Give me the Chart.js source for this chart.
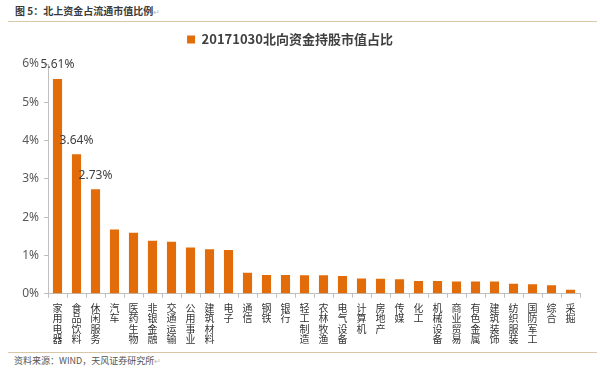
<!DOCTYPE html>
<html>
<head>
<meta charset="utf-8">
<script src="https://cdn.jsdelivr.net/npm/chart.js@4/dist/chart.umd.min.js"></script>
<style>
  body { margin: 0; background: #fff; font-family: "Noto Sans CJK SC", "Noto Sans", sans-serif; }
  #wrap { position: relative; width: 600px; height: 371px; overflow: hidden; }
  #title { position: absolute; left: 15px; top: 4px; font-size: 10px; line-height: 14px; font-weight: bold; color: #3a3a3a; }
  .mark { color: #bbb; font-weight: normal; font-size: 8px; }
  .rule { position: absolute; left: 8px; width: 589px; height: 1px; background: #d8c8a8; }
  #source { position: absolute; left: 14px; top: 355px; font-size: 9px; line-height: 12px; color: #555; }
  #box { position: absolute; left: 0; top: 24px; width: 600px; height: 322px; }
</style>
</head>
<body>
<div id="wrap">
  <div id="title">图 5：北上资金占流通市值比例<span class="mark">↵</span></div>
  <div class="rule" style="top:21px"></div>
  <div id="box"><canvas id="myChart"></canvas></div>
  <div class="rule" style="top:352px"></div>
  <div id="source">资料来源：WIND，天风证券研究所<span class="mark">↵</span></div>
</div>
<script>
// industries, sorted by share of float market value held by northbound funds
const industries = ['家用电器', '食品饮料', '休闲服务', '汽车', '医药生物', '非银金融', '交通运输', '公用事业', '建筑材料', '电子',
  '通信', '钢铁', '银行', '轻工制造', '农林牧渔', '电气设备', '计算机', '房地产', '传媒', '化工',
  '机械设备', '商业贸易', '有色金属', '建筑装饰', '纺织服装', '国防军工', '综合', '采掘'];
const shareValues = [5.61, 3.64, 2.73, 1.68, 1.59, 1.38, 1.36, 1.21, 1.16, 1.14,
  0.55, 0.49, 0.49, 0.48, 0.48, 0.46, 0.40, 0.39, 0.38, 0.33,
  0.33, 0.32, 0.32, 0.32, 0.26, 0.25, 0.22, 0.10];
const labelledBars = [0, 1, 2]; // only the top three carry a value label
const seriesName = '20171030北向资金持股市值占比';

const orange = '#e36c0a';

// draws the value labels over the first bars
const valueLabels = {
  id: 'valueLabels',
  afterDatasetsDraw(chart) {
    const ctx = chart.ctx;
    const meta = chart.getDatasetMeta(0);
    ctx.save();
    ctx.font = '12px "Noto Sans", sans-serif';
    ctx.fillStyle = '#404040';
    ctx.textAlign = 'center';
    ctx.textBaseline = 'middle';
    labelledBars.forEach(i => {
      const bar = meta.data[i];
      ctx.fillText(shareValues[i].toFixed(2) + '%', bar.x, bar.y - 14);
    });
    ctx.restore();
  }
};

// extra room under the legend
const legendGap = {
  id: 'legendGap',
  beforeInit(chart) {
    const fit = chart.legend.fit;
    chart.legend.fit = function () {
      fit.bind(chart.legend)();
      this.height += 8;
    };
  }
};

const ctx = document.getElementById('myChart');
new Chart(ctx, {
  type: 'bar',
  data: {
    labels: industries.map(name => name.split('')),
    datasets: [{
      label: seriesName,
      data: shareValues,
      backgroundColor: orange,
      borderWidth: 0,
      categoryPercentage: 1,
      barPercentage: 0.48
    }]
  },
  options: {
    responsive: true,
    maintainAspectRatio: false,
    animation: false,
    layout: { padding: { left: 0, right: 20, top: 0, bottom: 0 } },
    scales: {
      y: {
        min: 0,
        max: 6,
        afterFit(scale) { scale.width = 48; },
        ticks: {
          stepSize: 1,
          padding: 5,
          color: '#595959',
          font: { size: 12, family: '"Noto Sans", sans-serif' },
          callback: value => value + '%'
        },
        grid: { drawOnChartArea: false, tickLength: 4, color: '#bfbfbf' },
        border: { color: '#bfbfbf' }
      },
      x: {
        afterFit(scale) { scale.height = 52.3; },
        ticks: {
          autoSkip: false,
          maxRotation: 0,
          minRotation: 0,
          padding: 5,
          color: '#333',
          font: { size: 10, lineHeight: 1.05, family: '"Noto Sans CJK SC", sans-serif' }
        },
        grid: { drawOnChartArea: false, tickLength: 4, color: '#bfbfbf', offset: true },
        border: { color: '#bfbfbf' }
      }
    },
    plugins: {
      legend: {
        display: true,
        position: 'top',
        labels: {
          boxWidth: 8,
          boxHeight: 8,
          padding: 9,
          color: '#404040',
          font: { size: 13, weight: 'bold', family: '"Noto Sans CJK SC", sans-serif' }
        }
      },
      tooltip: { enabled: false }
    }
  },
  plugins: [valueLabels, legendGap]
});
</script>
</body>
</html>
